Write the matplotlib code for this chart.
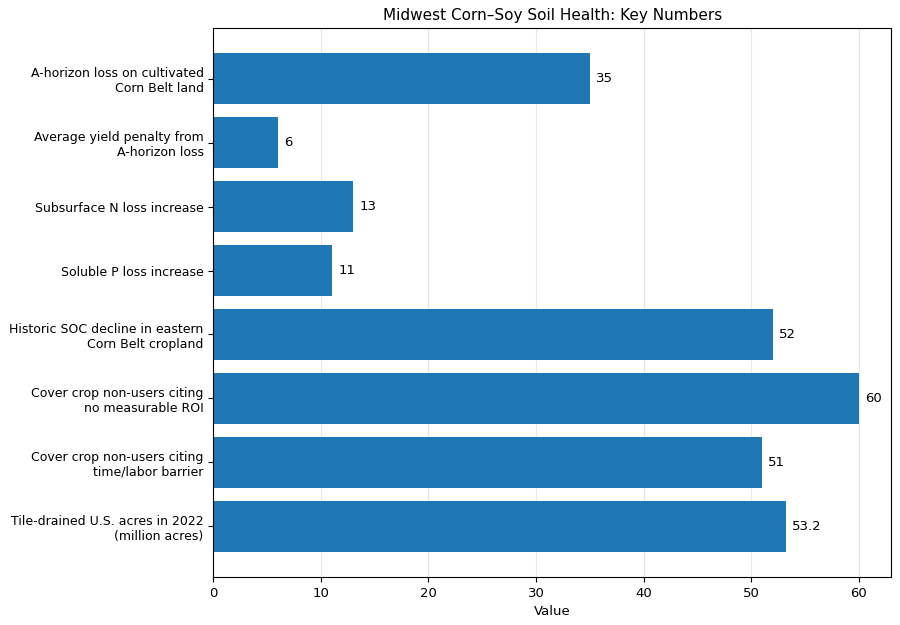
import matplotlib
matplotlib.use("Agg")
import matplotlib.pyplot as plt

labels = [
    "A-horizon loss on cultivated\nCorn Belt land",
    "Average yield penalty from\nA-horizon loss",
    "Subsurface N loss increase",
    "Soluble P loss increase",
    "Historic SOC decline in eastern\nCorn Belt cropland",
    "Cover crop non-users citing\nno measurable ROI",
    "Cover crop non-users citing\ntime/labor barrier",
    "Tile-drained U.S. acres in 2022\n(million acres)",
]
values = [35, 6, 13, 11, 52, 60, 51, 53.2]
value_text = ["35", "6", "13", "11", "52", "60", "51", "53.2"]

fig = plt.figure(figsize=(9, 6.25), dpi=100)
ax = fig.add_axes([0.237, 0.077, 0.753, 0.878])

y = list(range(len(labels)))
ax.barh(y, values, height=0.8, color="#1f77b4", zorder=2)
ax.set_yticks(y)
ax.set_yticklabels(labels, fontsize=9)
ax.tick_params(axis="x", labelsize=9.5)
ax.invert_yaxis()
ax.set_xlim(0, max(values) * 1.05)

for yi, v, t in zip(y, values, value_text):
    ax.text(v + 0.6, yi, t, va="center", ha="left", fontsize=9.5)

ax.grid(axis="x", color="#e8e8e8", linewidth=0.8, zorder=0)
ax.set_axisbelow(True)
ax.set_xlabel("Value", fontsize=9.5)
ax.set_title("Midwest Corn\u2013Soy Soil Health: Key Numbers", fontsize=11)

fig.savefig("out.png", dpi=100)
